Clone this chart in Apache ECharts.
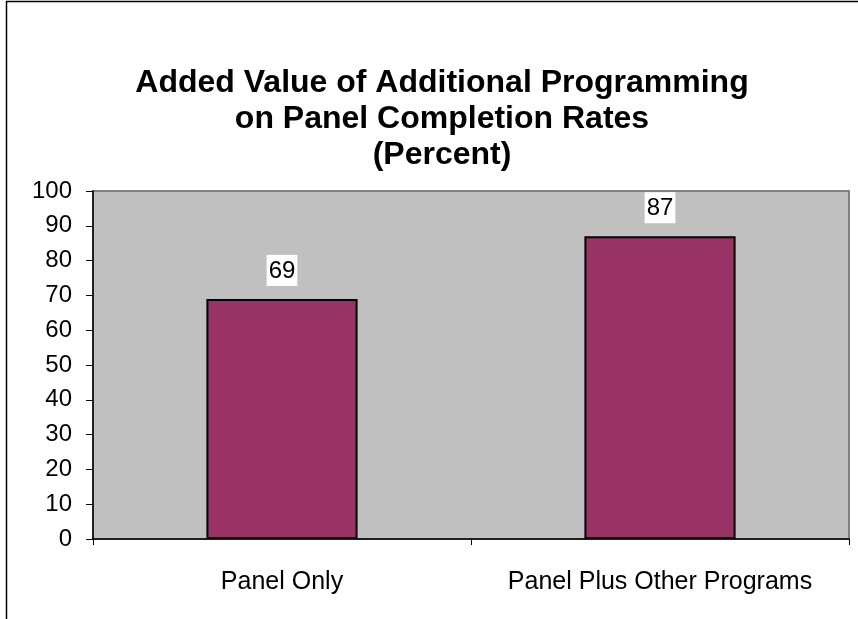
<!DOCTYPE html>
<html>
<head>
<meta charset="utf-8">
<style>
  html, body { margin: 0; padding: 0; background: #ffffff; }
  #chart { width: 858px; height: 619px; }
</style>
<script src="https://cdn.jsdelivr.net/npm/echarts@6/dist/echarts.min.js"></script>
</head>
<body>
<div id="chart"></div>
<script>
const titleLines = ["Added Value of Additional Programming", "on Panel Completion Rates", "(Percent)"];
const categories = ["Panel Only", "Panel Plus Other Programs"];
const values = [69, 87];
const yMin = 0, yMax = 100, yStep = 10;

const FONT = "'Liberation Sans', Arial, Helvetica, sans-serif";
const chart = echarts.init(document.getElementById('chart'), null, { renderer: 'canvas' });

chart.setOption({
  animation: false,
  backgroundColor: '#ffffff',
  textStyle: { fontFamily: FONT },
  title: {
    text: titleLines.join('\n'),
    left: 437,
    top: 60,
    textAlign: 'center',
    textStyle: { fontFamily: FONT, fontSize: 32, fontWeight: 'bold', color: '#000', lineHeight: 36 }
  },
  graphic: [{
    type: 'rect',
    shape: { x: 6.5, y: 1.5, width: 900, height: 700 },
    style: { fill: 'none', stroke: '#000', lineWidth: 1.5 },
    silent: true
  }],
  grid: {
    left: 93, right: 9, top: 191, bottom: 80,
    show: true, backgroundColor: '#C0C0C0', borderColor: '#808080', borderWidth: 2
  },
  xAxis: {
    type: 'category',
    data: categories,
    axisLine: { show: true, lineStyle: { color: '#000', width: 1.5 } },
    axisTick: { show: true, length: 6, lineStyle: { color: '#000' } },
    axisLabel: { fontFamily: FONT, fontSize: 25, color: '#000', margin: 31, interval: 0, hideOverlap: false },
    splitLine: { show: false }
  },
  yAxis: {
    type: 'value',
    min: yMin, max: yMax, interval: yStep,
    axisLine: { show: true, lineStyle: { color: '#000', width: 1.5 } },
    axisTick: { show: true, length: 7, lineStyle: { color: '#000' } },
    axisLabel: { fontFamily: FONT, fontSize: 24, color: '#000', margin: 21 },
    splitLine: { show: false }
  },
  series: [{
    type: 'bar',
    data: values,
    barWidth: '40%',
    itemStyle: { color: '#993366', borderColor: '#000', borderWidth: 2 },
    label: {
      show: true, position: 'top', distance: 13,
      fontFamily: FONT, fontSize: 24, color: '#000',
      backgroundColor: '#fff', padding: [4, 2, 3, 2]
    }
  }]
});
</script>
</body>
</html>
